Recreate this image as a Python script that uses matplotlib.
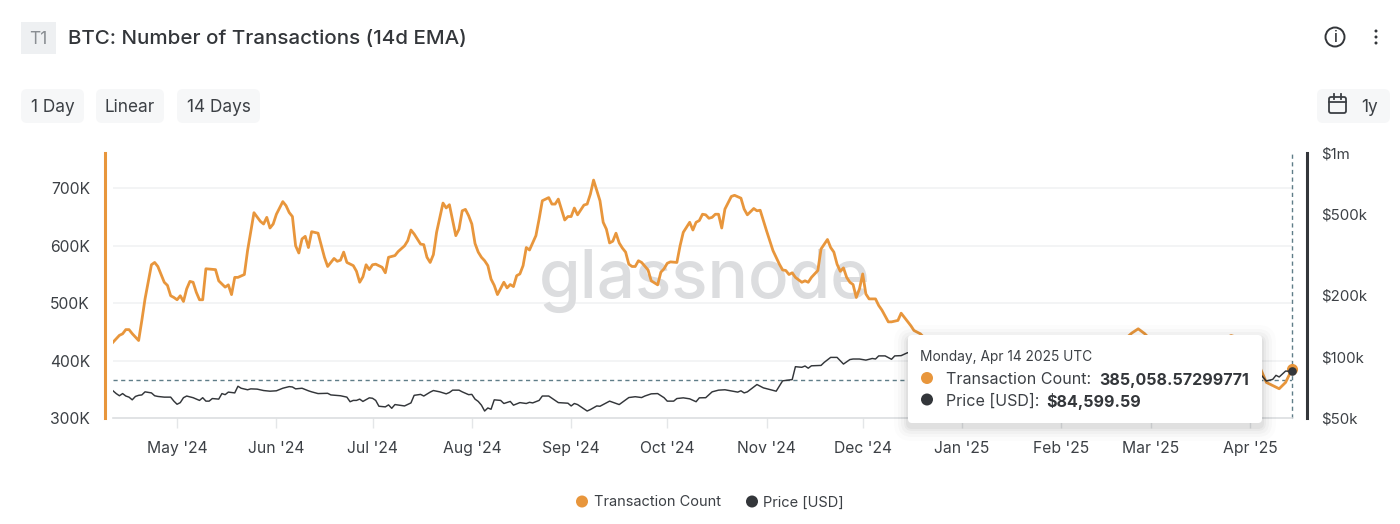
import numpy as np
import matplotlib
matplotlib.use("Agg")
import matplotlib.pyplot as plt
import matplotlib.dates as mdates
from matplotlib.patches import FancyBboxPatch, Circle, Rectangle
from matplotlib.lines import Line2D

plt.rcParams['font.family'] = ['Inter', 'DejaVu Sans']

START_DATE = np.datetime64('2024-04-11')

tx_days = [0,2,3,4,5,6,8,9,10,12,13,14,15,16,17,18,19,20,21,22,23,24,25,26,27,28,29,32,33,35,36,37,38,39,41,42,44,46,47,48,49,50,51,53,54,55,56,57,58,59,60,61,62,64,66,67,69,70,71,72,73,75,76,77,78,79,80,81,82,84,85,86,88,89,91,92,93,94,96,97,98,99,100,101,103,104,105,107,108,109,110,111,112,113,114,115,116,117,118,119,120,122,123,124,125,126,127,128,129,130,132,133,134,136,137,138,139,141,142,143,144,145,147,148,149,150,152,153,154,155,156,157,158,159,160,161,162,163,164,165,167,168,170,171,172,173,174,176,177,178,180,181,182,183,184,185,186,187,188,189,190,191,193,194,196,197,198,200,201,202,204,206,208,209,210,211,212,213,215,216,217,218,220,221,223,224,225,226,227,228,229,230,231,232,233,234,235,236,238,239,240,242,243,245,246,249,250,252,253,255,262,270,280,290,300,305,316,318,320,322,325,335,345,348,349,351,355,358,360,364,366,368]
tx_k = [432,444,446.7,454,454,447,435,470,507.5,567,571,564,550,536.5,531,513,510,506,513,503,525,538,536.5,519,506,506,560,558.5,539,528,532,515,545,545,550,591.6,657.7,642.6,638,649.6,631,638,655,677,670,658,651,600,587.5,612,616.5,597,624.6,622,580,564,578,573,575,589,571,565.5,555.6,536.5,546,567,558.5,567,568,562.6,553,580,583,590,600,609,627.5,620.6,603,602,580,571,584.6,623.5,674.5,666,671.6,617.7,629,661,663.5,652.5,638,604,589,580,574,565.5,542,531,515,536.5,526.7,532.5,529,548,551,565.5,597,592.7,617.7,646.7,678.5,684,672.7,672.7,681.4,645,651,651,665.8,654,671,672.7,690,714.5,678.5,641,629,605,608,622,605,596,589,568,564,564,574,571,558,539,532,554,560,569.6,572,571,600,623.5,641,627.5,641,644,655,654,648,649.6,655,655,631,664,686,688,683,664,654,665,661,662,626,591.6,568,558,557,550,553,545,536.5,539,536.5,545,557,594.5,611,597,589,568,555.6,561.5,545,536.5,532.5,510,525,551,516,507.5,507.5,496,488,467.5,467.5,470,482.6,461,452.5,446.7,441,432,420,410,405,400,395,400,438,448,455.4,447,430,415,430,441,443.7,440,410,388,362,351,362,385.06]

price_days = [0,1,2,3,4,5,6,7,8,9,10,12,13,14,16,18,19,20,21,22,23,25,27,28,29,30,31,33,34,35,36,38,39,40,42,43,45,47,49,51,53,55,56,57,59,61,62,64,67,68,71,73,74,75,76,77,78,80,81,82,83,85,86,87,88,91,93,94,96,97,99,100,102,104,105,106,108,109,111,112,113,114,115,116,117,118,119,121,122,124,125,127,129,130,131,133,134,136,138,139,142,143,144,145,148,149,151,152,155,158,161,163,165,166,168,170,172,173,175,176,178,180,182,183,185,187,189,191,195,196,197,198,201,203,207,209,212,213,215,216,217,218,221,222,224,226,228,230,231,233,235,237,238,239,241,243,244,246,248,265,284,296,320,333,355,358,360,362,363,364,366,368]
price_k = [68,65.9,64.3,65.9,64.1,63.3,61.4,63.8,64.6,64.9,67.2,66.4,64.3,63.8,63.3,63.3,60.5,58.4,59.5,62.9,64.1,62.9,61,62.9,60.5,60.5,62.3,61.9,65.9,65.1,67,66.4,71.6,70,68.8,69.5,69.3,68.2,67.7,68,70,71.3,71,69.5,70,68,67.2,65.9,66.1,64.9,64.3,63.3,60.1,61,61,61.9,60.3,62.8,62.5,61,57.1,56.7,58,55.8,58.2,57.3,59.3,64.6,65.3,64.1,67,68.2,67.2,65.7,66.7,68.5,68.5,67.2,65.1,65.3,61.9,60.3,57.8,54.1,56,55.2,61.4,61,58.9,60.3,57.8,59.5,58.9,59.7,59.3,61,64.1,64.1,61,59.5,59.1,57.3,58.9,58.2,54.1,55,57.3,57.1,60.5,58.2,63,63.6,63,64.1,65.7,65.9,62.9,60.5,60.5,62.3,62.8,62.1,60.1,62.8,62.9,67.2,68.5,68.8,67,68,66.4,67.2,73,70.3,67.7,76.1,77.2,89.3,88.7,90,87.8,90.2,90.6,93.8,99.2,99.2,92,96.8,97.4,97.4,96.2,98,97.4,100.9,100.9,97.1,100.9,101.2,104.6,94,105,101,88,80,85,82.6,75.9,77.4,81,79.5,85,84.6]

left_ticks = [300, 400, 500, 600, 700]
left_labels = ['300K', '400K', '500K', '600K', '700K']
right_ticks = [50, 100, 200, 500, 1000]
right_labels = ['$50k', '$100k', '$200k', '$500k', '$1m']
month_dates = ['2024-05-01','2024-06-01','2024-07-01','2024-08-01','2024-09-01','2024-10-01','2024-11-01','2024-12-01','2025-01-01','2025-02-01','2025-03-01','2025-04-01']
month_labels = ["May '24","Jun '24","Jul '24","Aug '24","Sep '24","Oct '24","Nov '24","Dec '24","Jan '25","Feb '25","Mar '25","Apr '25"]

ORANGE = '#e8963c'
DARK = '#33363a'
TXT = '#3c4045'
W, H = 1400, 524

def dates_of(days):
    return mdates.date2num(START_DATE + np.array(days).astype('timedelta64[D]'))

fig = plt.figure(figsize=(14, 5.24), dpi=100, facecolor='white')
ax = fig.add_axes([113/W, (H-418)/H, (1292-113)/W, 265/H])
ax.set_xlim(dates_of([0])[0], dates_of([368])[0])
ax.set_ylim(300, 761.7)
ax.set_facecolor('none')

for t in left_ticks[1:]:
    ax.axhline(t, color='#f1f2f3', lw=1.2, zorder=1)
ax.text(0.502, 0.517, 'glassnode', transform=ax.transAxes, fontsize=48.5, color='#dcdddf',
        ha='center', va='center', zorder=1.5, fontweight='medium')

ax.plot(dates_of(tx_days), tx_k, color=ORANGE, lw=2.0, zorder=3, solid_joinstyle='round')
ax.axhline(366, color='#5f7d88', lw=1, ls=(0, (3, 2.5)), zorder=2)
ax.axvline(dates_of([368])[0], color='#5f7d88', lw=1, ls=(0, (3, 2.5)), zorder=2, clip_on=False)
ax.plot(dates_of([tx_days[-1]]), [tx_k[-1]], 'o', color=ORANGE, ms=7, zorder=4, clip_on=False)

for s in ['top', 'right']:
    ax.spines[s].set_visible(False)
ax.spines['bottom'].set_color('#dcdee0')
ax.spines['bottom'].set_linewidth(1.2)
ax.spines['left'].set_position(('outward', 6.1))
ax.spines['left'].set_color(ORANGE)
ax.spines['left'].set_linewidth(2.2)
ax.set_yticks(left_ticks, left_labels)
ax.tick_params(axis='y', length=0, pad=10.5, labelsize=11.3, labelcolor=TXT)
ax.set_xticks(mdates.date2num(np.array(month_dates, dtype='datetime64[D]')), month_labels)
ax.tick_params(axis='x', length=7, width=1, color='#e4e6e8', pad=9.5, labelsize=11.3, labelcolor=TXT)

ax2 = ax.twinx()
ax2.set_yscale('log')
ax2.set_ylim(50, 1000)
ax2.set_facecolor('none')
ax2.plot(dates_of(price_days), price_k, color=DARK, lw=1.05, zorder=3)
ax2.plot(dates_of([price_days[-1]]), [price_k[-1]], 'o', color=DARK, ms=5.2, zorder=5, clip_on=False)
for s in ['top', 'left', 'bottom']:
    ax2.spines[s].set_visible(False)
ax2.spines['right'].set_position(('outward', 10.8))
ax2.spines['right'].set_color(DARK)
ax2.spines['right'].set_linewidth(2.2)
ax2.set_yticks(right_ticks, right_labels)
ax2.minorticks_off()
ax2.tick_params(axis='y', length=0, pad=10, labelsize=10.8, labelcolor=TXT)

# Overlay in pixel coordinates for page furniture
ov = fig.add_axes([0, 0, 1, 1], zorder=10)
ov.set_xlim(0, W)
ov.set_ylim(H, 0)
ov.axis('off')
ov.patch.set_alpha(0)

def rbox(x0, y0, x1, y1, r, fc, ec='none', alpha=1, z=2):
    p = FancyBboxPatch((x0 + r, y0 + r), x1 - x0 - 2*r, y1 - y0 - 2*r,
                       boxstyle=f'round,pad={r},rounding_size={r}', fc=fc, ec=ec, alpha=alpha,
                       lw=0, zorder=z, mutation_aspect=1)
    ov.add_patch(p)

# Header
ov.add_patch(Rectangle((21, 22), 35, 32, fc='#eef0f2', ec='none'))
ov.text(38.5, 39, 'T1', fontsize=12.5, color='#8a8e93', ha='center', va='center')
ov.text(68, 39, 'BTC: Number of Transactions (14d EMA)', fontsize=14.8, color='#33363a',
        ha='left', va='center', fontweight='medium')

# Buttons
for (x0, x1, label) in [(21, 84, '1 Day'), (96, 164, 'Linear'), (177, 260, '14 Days')]:
    rbox(x0, 89, x1, 123, 6, '#f6f7f8')
    ov.text((x0 + x1)/2, 107.5, label, fontsize=12.4, color=TXT, ha='center', va='center')
rbox(1317, 89, 1390, 123, 6, '#f6f7f8')
ov.text(1370, 107.5, '1y', fontsize=12.4, color=TXT, ha='center', va='center')
ov.add_patch(FancyBboxPatch((1329, 97), 17, 16, boxstyle='round,pad=0,rounding_size=2',
                            fc='none', ec=TXT, lw=1.3, zorder=3))
ov.add_line(Line2D([1329, 1346], [102, 102], color=TXT, lw=1.3, zorder=3))
ov.add_line(Line2D([1334, 1334], [94, 99], color=TXT, lw=1.3, zorder=3))
ov.add_line(Line2D([1341, 1341], [94, 99], color=TXT, lw=1.3, zorder=3))

# Info and menu icons
ov.add_patch(Circle((1335, 37), 9.5, fc='none', ec=DARK, lw=1.4))
ov.text(1335, 37.5, 'i', fontsize=11, color=DARK, ha='center', va='center', fontweight='medium')
for y in [31, 37, 43]:
    ov.add_patch(Circle((1376, y), 1.5, fc=DARK, ec='none'))

# Tooltip
for i, a in zip([14, 10, 7, 4, 2], [0.012, 0.018, 0.025, 0.03, 0.035]):
    rbox(908 - i, 335 - i + 4, 1262 + i, 423 + i + 4, 4 + i, '#000000', alpha=a, z=3)
rbox(908, 335, 1262, 423, 4, 'white', z=4)
ov.text(920, 356.5, 'Monday, Apr 14 2025 UTC', fontsize=9.9, color=TXT, ha='left', va='center', zorder=5)
ov.add_patch(Circle((927, 378), 6, fc=ORANGE, ec='none', zorder=5))
ov.add_patch(Circle((927, 399.5), 6, fc=DARK, ec='none', zorder=5))
ov.text(946, 380, 'Transaction Count:', fontsize=11.55, color=TXT, ha='left', va='center', zorder=5)
ov.text(1099, 380, '385,058.57299771', fontsize=11.55, color=DARK, ha='left', va='center',
        fontweight='bold', zorder=5)
ov.text(946, 401.5, 'Price [USD]:', fontsize=11.55, color=TXT, ha='left', va='center', zorder=5)
ov.text(1046, 401.5, '$84,599.59', fontsize=11.55, color=DARK, ha='left', va='center',
        fontweight='bold', zorder=5)

# Legend
ov.add_patch(Circle((582, 501.5), 6, fc=ORANGE, ec='none'))
ov.text(594, 502.5, 'Transaction Count', fontsize=10.5, color=TXT, ha='left', va='center')
ov.add_patch(Circle((752, 501.5), 6, fc=DARK, ec='none'))
ov.text(763, 502.5, 'Price [USD]', fontsize=10.5, color=TXT, ha='left', va='center')

fig.savefig('out.png', dpi=100, facecolor='white')
